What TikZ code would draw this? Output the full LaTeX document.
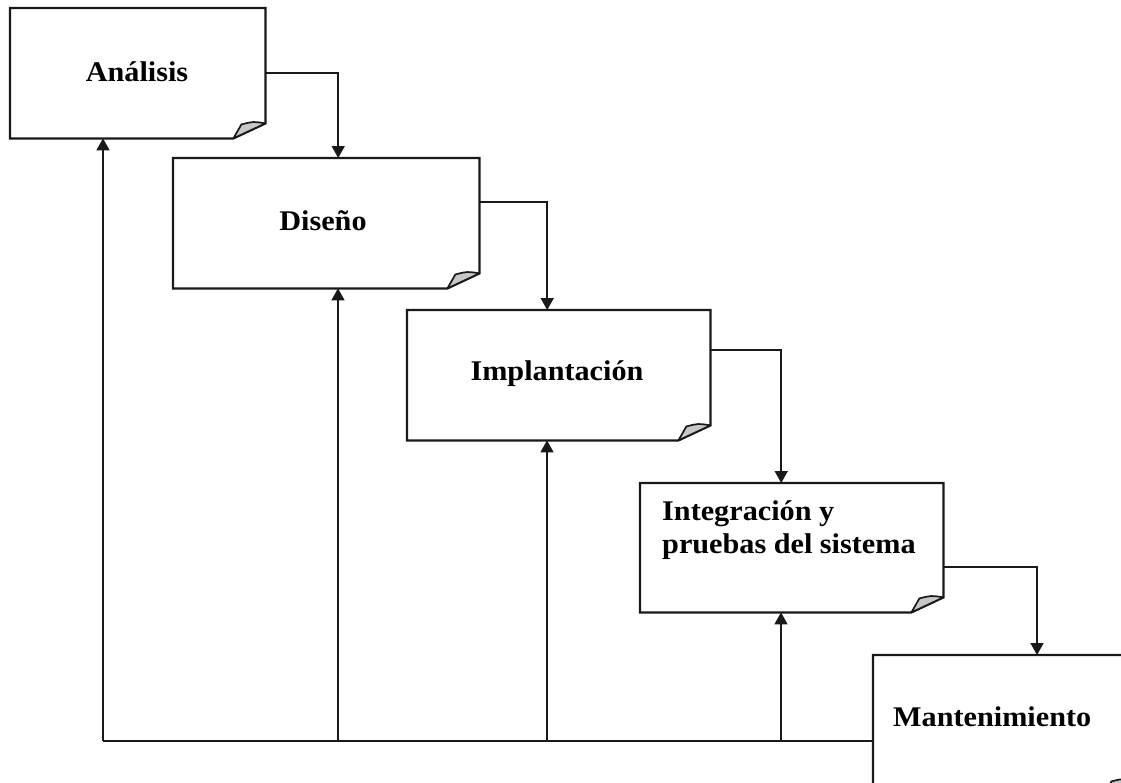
\documentclass[tikz,border=0pt]{standalone}
\usepackage{fontspec}
\setmainfont{Liberation Serif}
\newfontfamily\stagefont{Liberation Serif}[FakeStretch=1.06]
\usetikzlibrary{arrows.meta}

% folded-page outline with a curled lower-right corner
\newcommand\pagefold[1]{%
  \draw[boxline] (#1.south west) -- (#1.north west) -- (#1.north east)
    -- ([yshift=15pt]#1.south east) -- ([xshift=-32pt]#1.south east) -- cycle;
  \filldraw[curl] ([xshift=-32pt]#1.south east) -- ([xshift=-24pt,yshift=14pt]#1.south east)
    .. controls ([xshift=-12pt,yshift=17pt]#1.south east) .. ([yshift=15pt]#1.south east) -- cycle;
}

\tikzset{
  stagebox/.style={inner sep=0pt, anchor=north west},
  boxline/.style={draw=black!90, line width=2.2pt, fill=white, line join=miter},
  curl/.style={draw=black!90, line width=1.7pt, fill=black!22, line join=round},
  stagetext/.style={font=\stagefont\bfseries\fontsize{28.5}{33}\selectfont, inner sep=0pt},
  flow/.style={draw=black!90, line width=1.6pt, -{Triangle[length=12pt,width=13pt]}},
  link/.style={draw=black!90, line width=1.6pt},
}

\begin{document}
\begin{tikzpicture}[x=1pt, y=-1pt]
  \useasboundingbox (0,0) rectangle (1121,782);
  \fill[white] (0,0) rectangle (1121,782);
  \clip (0,0) rectangle (1121,782);

  % stage boxes
  \node[stagebox, minimum width=255pt, minimum height=130pt] (ana) at (10,8) {};
  \node[stagebox, minimum width=306pt, minimum height=130pt] (dis) at (173,158) {};
  \node[stagebox, minimum width=303pt, minimum height=130pt] (imp) at (407,310) {};
  \node[stagebox, minimum width=303pt, minimum height=129pt] (int) at (640,483) {};
  \node[stagebox, minimum width=262pt, minimum height=140pt] (man) at (873,655) {};

  % return line along the bottom
  \coordinate (ret) at (873,741);
  \coordinate (r1) at (103,741);
  \coordinate (r2) at (338,741);
  \coordinate (r3) at (547,741);
  \coordinate (r4) at (781,741);
  \draw[link] (ret) -- (r1);
  \draw[flow] (r1) -- (r1 |- ana.south);
  \draw[flow] (r2) -- (r2 |- dis.south);
  \draw[flow] (r3) -- (r3 |- imp.south);
  \draw[flow] (r4) -- (r4 |- int.south);

  % forward steps
  \draw[flow] (ana.east) -| ([xshift=12pt]dis.north);
  \draw[flow] ([yshift=21pt]dis.east) -| ([xshift=-11.5pt]imp.north);
  \draw[flow] ([yshift=25pt]imp.east) -| ([xshift=-10.5pt]int.north);
  \draw[flow] ([yshift=-19.5pt]int.east) -| (1037,655);

  \pagefold{ana}
  \pagefold{dis}
  \pagefold{imp}
  \pagefold{int}
  \pagefold{man}

  % labels
  \node[stagetext] (ana-t) at (137,72) {Análisis};
  \node[stagetext] (dis-t) at (323,221) {Diseño};
  \node[stagetext] (imp-t) at (557,374) {Implantación};
  \node[stagetext, align=left, anchor=north west] (int-t) at (662,500) {Integración y\\pruebas del sistema};
  \node[stagetext, anchor=west] (man-t) at (893,717) {Mantenimiento};
\end{tikzpicture}
\end{document}
